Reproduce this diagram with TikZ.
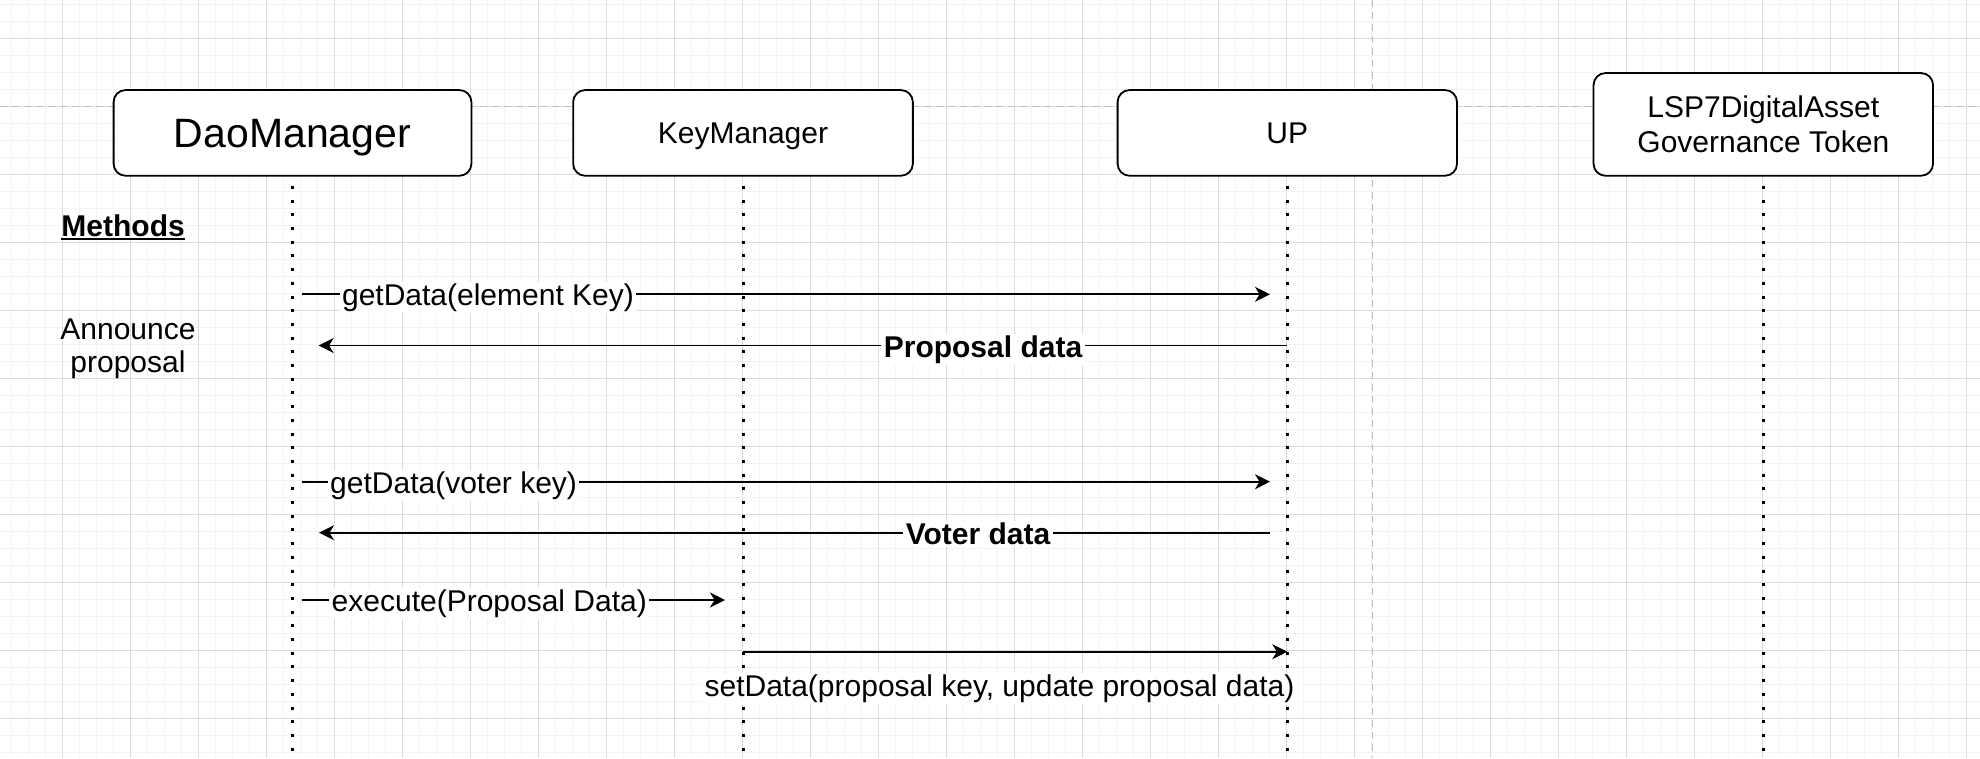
\documentclass[tikz,border=0pt]{standalone}
\usepackage{fontspec}
\setmainfont{Liberation Sans}
\usetikzlibrary{arrows.meta}
\definecolor{minorgrid}{HTML}{F3F3F3}
\definecolor{majorgrid}{HTML}{DCDCDC}
\definecolor{pagebreak}{HTML}{BDBDBD}
\begin{document}
\begin{tikzpicture}[x=1pt,y=-1pt,
  minorline/.style={draw=minorgrid, line width=1.6pt},
  majorline/.style={draw=majorgrid, line width=1pt},
  breakline/.style={draw=pagebreak, line width=1.4pt, dash pattern=on 7pt off 5pt},
  participant/.style={draw=black, line width=1.8pt, fill=white, rounded corners=12pt,
    inner sep=0pt, align=center, font=\fontsize{30}{35}\selectfont},
  capcentered/.style={text height=#1, text depth=0pt},
  lifeline/.style={draw=black, line width=3pt, dash pattern=on 3pt off 10.7pt},
  msg/.style={draw=black, line width=1.8pt, -{Stealth[length=15pt,width=15pt,inset=4.5pt]}},
  lbl/.style={fill=white, inner xsep=2.5pt, inner ysep=1.5pt, anchor=base,
    font=\fontsize{30}{36}\selectfont},
  note/.style={inner sep=0pt, anchor=base, align=center, font=\fontsize{30}{33.4}\selectfont}]
\useasboundingbox (0,0) rectangle (1980,758);
\fill[white] (0,0) rectangle (1980,758);
% grid
\foreach \i in {0,...,117} \draw[minorline] ({-5.7+17*\i},0) -- ({-5.7+17*\i},758);
\foreach \j in {0,...,44} \draw[minorline] (0,{4.3+17*\j}) -- (1980,{4.3+17*\j});
\foreach \i in {-1,...,29} \draw[majorline] ({62.3+68*\i},0) -- ({62.3+68*\i},758);
\foreach \j in {0,...,11} \draw[majorline] (0,{38.3+68*\j}) -- (1980,{38.3+68*\j});
% page breaks
\draw[breakline] (0,106.7) -- (1980,106.7);
\draw[breakline] (1372.7,0) -- (1372.7,758);
% participants
\node[participant, capcentered=29.4pt, minimum width=357.8pt, minimum height=85.7pt,
  font=\fontsize{41}{48}\selectfont] (dao) at (292.5,132.9) {DaoManager};
\node[participant, capcentered=21.5pt, minimum width=339.7pt, minimum height=85.7pt] (key) at (743,132.9) {KeyManager};
\node[participant, capcentered=21.5pt, minimum width=339.4pt, minimum height=85.7pt] (up) at (1287.3,132.9) {UP};
\node[participant, minimum width=339.5pt, minimum height=102.7pt] (lsp) at (1763.3,124.4)
  {LSP7DigitalAsset\\Governance Token};
% lifeline ends
\coordinate (daoEnd) at (292.5,758);
\coordinate (keyEnd) at (743,758);
\coordinate (upEnd) at (1287.3,758);
\coordinate (lspEnd) at (1763.3,758);
\draw[lifeline] ([yshift=-9.3pt]dao.south) -- (daoEnd);
\draw[lifeline] ([yshift=-9.3pt]key.south) -- (keyEnd);
\draw[lifeline] ([yshift=-9.3pt]up.south) -- (upEnd);
\draw[lifeline] ([yshift=-9.3pt]lsp.south) -- (lspEnd);
% side texts
\node[note] (methods) at (123.1,236.7) {\bfseries Methods};
\draw[line width=1.8pt] ([yshift=-2pt]methods.base west) -- ([yshift=-2pt]methods.base east);
\node[note] (announce) at (128,372.7) {Announce\\proposal};
% message end points
\coordinate (m1s) at (302,294.3);   \coordinate (m1e) at (1270,294.3);
\coordinate (m2s) at (1287.3,345.5); \coordinate (m2e) at (318.6,345.5);
\coordinate (m3s) at (302,481.7);   \coordinate (m3e) at (1270,481.7);
\coordinate (m4s) at (1270,532.7);  \coordinate (m4e) at (319,532.7);
\coordinate (m5s) at (302,600);     \coordinate (m5e) at (725,600);
\coordinate (m6s) at (743,651.7);   \coordinate (m6e) at (1287.3,651.7);
\draw[msg] (m1s) -- (m1e);
\draw[msg] (m2s) -- (m2e);
\draw[msg] (m3s) -- (m3e);
\draw[msg] (m4s) -- (m4e);
\draw[msg] (m5s) -- (m5e);
\draw[msg] (m6s) -- (m6e);
% message labels
\node[lbl] (l1) at (488,305.5) {getData(element Key)};
\node[lbl] (l2) at (983,357) {\bfseries Proposal data};
\node[lbl] (l3) at (453.6,493) {getData(voter key)};
\node[lbl] (l4) at (978,544) {\bfseries Voter data};
\node[lbl] (l5) at (489.3,611.5) {execute(Proposal Data)};
\node[lbl] (l6) at (999.5,696.7) {setData(proposal key, update proposal data)};
\end{tikzpicture}
\end{document}
